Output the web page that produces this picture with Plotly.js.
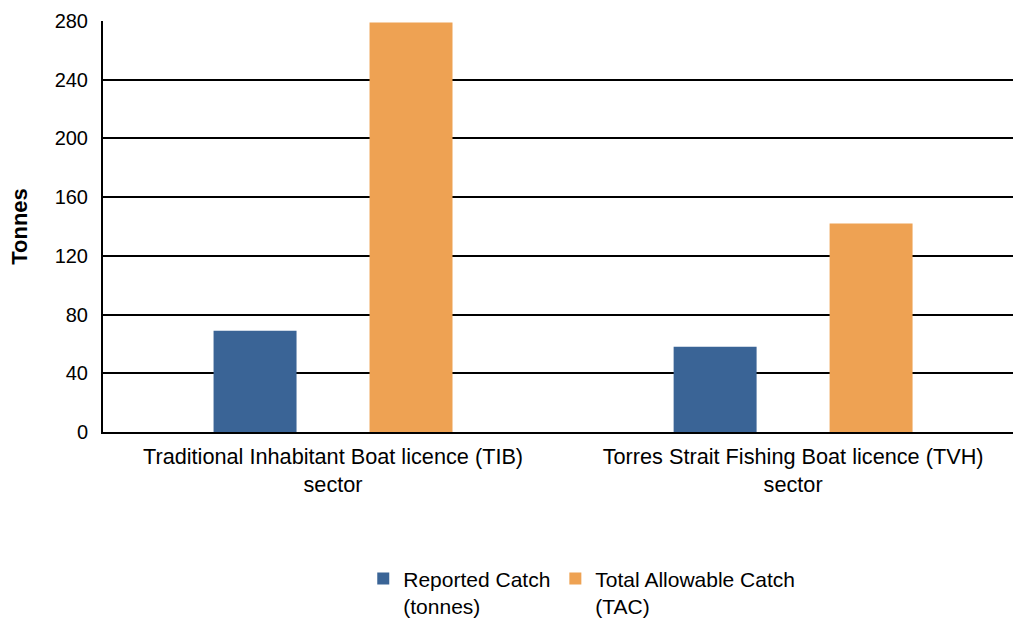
<!DOCTYPE html>
<html>
<head>
<meta charset="utf-8">
<script src="https://cdn.plot.ly/plotly-3.0.1.min.js"></script>
<style>html,body{margin:0;padding:0;background:#fff;}#chart{width:1013px;height:618px;}</style>
</head>
<body>
<div id="chart"></div>
<script>
const categories = ["Traditional Inhabitant Boat licence (TIB)<br>sector", "Torres Strait Fishing Boat licence (TVH)<br>sector"];
const reportedCatch = [69, 58];
const totalAllowableCatch = [279, 142];
const seriesNames = ["Reported Catch<br>(tonnes)", "Total Allowable Catch<br>(TAC)"];
const yTicks = [0, 40, 80, 120, 160, 200, 240, 280];

const font = "Liberation Sans, Arial, sans-serif";

const data = [
  {type: "bar", x: categories, y: reportedCatch, name: seriesNames[0], marker: {color: "#3A6496"}},
  {type: "bar", x: categories, y: totalAllowableCatch, name: seriesNames[1], marker: {color: "#EEA253"}}
];

const layout = {
  width: 1013, height: 618,
  margin: {l: 103, r: 0, t: 21, b: 186, pad: 0, autoexpand: false},
  paper_bgcolor: "#fff", plot_bgcolor: "#fff",
  font: {family: font, size: 20, color: "#000"},
  barmode: "group", bargap: 0.322, bargroupgap: 0.468,
  xaxis: {
    type: "category", range: [-0.5, 1.478], showgrid: false, showline: true, linecolor: "#000", linewidth: 2,
    ticks: "", tickfont: {family: font, size: 21.7, color: "#000"}, ticklabelstandoff: 4, automargin: false
  },
  yaxis: {
    range: [0, 280], tickvals: yTicks, ticktext: yTicks.map(String),
    showgrid: true, gridcolor: "#000", gridwidth: 2, showline: true, linecolor: "#000", linewidth: 2,
    zeroline: false, ticks: "", ticklabelstandoff: 9, automargin: false,
    tickfont: {family: font, size: 20, color: "#000"},
    title: {text: "<b>Tonnes</b>", font: {family: font, size: 22, color: "#000"}, standoff: 21}
  },
  showlegend: true,
  legend: {
    orientation: "h", x: 0.286, xanchor: "left", y: -0.39, yanchor: "middle",
    font: {family: font, size: 21, color: "#000"}, valign: "top",
    traceorder: "normal", itemwidth: 30
  }
};

Plotly.newPlot("chart", data, layout, {displayModeBar: false, staticPlot: true});
</script>
</body>
</html>
